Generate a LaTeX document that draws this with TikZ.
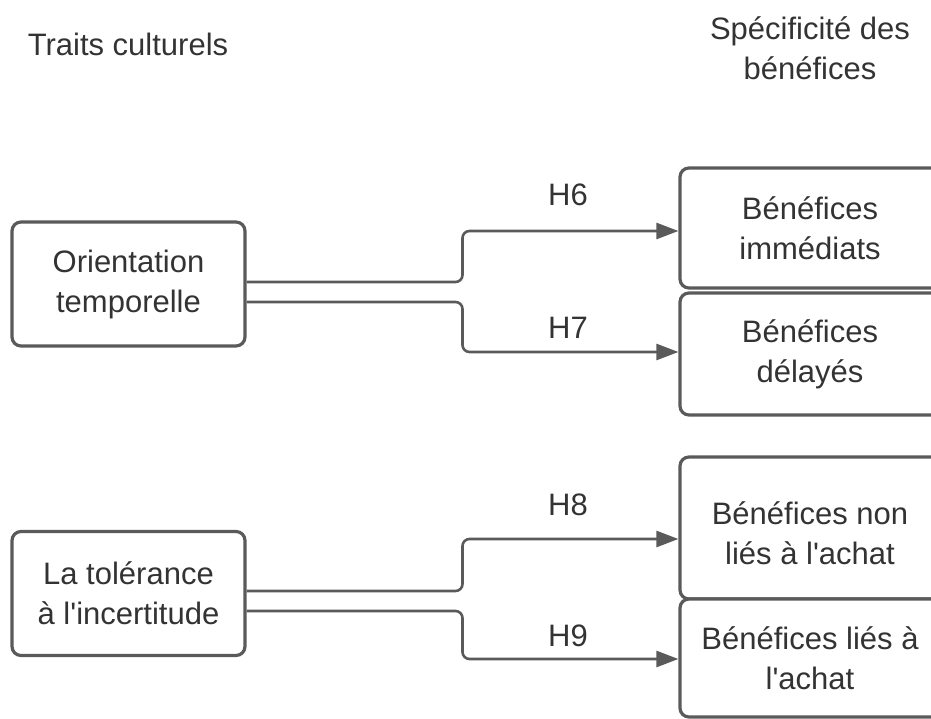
\documentclass[tikz,border=0pt]{standalone}
\usepackage{fontspec}
\setmainfont{Liberation Sans}[Ligatures=TeXOff]
\usetikzlibrary{arrows.meta,calc}
\definecolor{edge}{HTML}{5A5A5A}
\definecolor{ink}{HTML}{333333}
\begin{document}
\begin{tikzpicture}[x=1pt,y=-1pt,
  every node/.style={text=ink,font=\fontsize{31}{40}\selectfont},
  box/.style={draw=edge,line width=3.2pt,rounded corners=9pt,fill=white,
    align=center,inner sep=0pt},
  leftbox/.style={box,minimum width=233pt,minimum height=124pt},
  rightbox/.style={box,minimum width=260pt},
  conn/.style={draw=edge,line width=2.6pt,rounded corners=7pt,
    -{Triangle[length=22pt,width=16pt]}},
  hyp/.style={inner sep=0pt}]
\useasboundingbox (0,0) rectangle (931,719);
\clip (0,0) rectangle (931,719);

% column headings
\node (h1) at (128,44) {Traits culturels};
\node[align=center] (h2) at (810,48) {Spécificité des\\bénéfices};

% cultural traits
\node[leftbox] (ot) at (128.5,284) {Orientation\\temporelle};
\node[leftbox] (ti) at (128.5,593.5) {La tolérance\\à l'incertitude};

% benefit specificity
\node[rightbox,minimum height=120pt] (ib) at (810,228) {Bénéfices\\immédiats};
\node[rightbox,minimum height=122pt] (db) at (810,354) {Bénéfices\\délayés};
\node[rightbox,minimum height=142pt] (nb) at (810,528) {};
\node (nbt) at (810,536) {\begin{tabular}{@{}c@{}}Bénéfices non\\liés à l'achat\end{tabular}};
\node[rightbox,minimum height=118pt] (lb) at (810,658) {Bénéfices liés à\\l'achat};

% hypotheses
\coordinate (o1) at ([yshift=2pt]ot.east);
\coordinate (o2) at ([yshift=-18pt]ot.east);
\coordinate (t1) at ([yshift=2.5pt]ti.east);
\coordinate (t2) at ([yshift=-17.5pt]ti.east);
\coordinate (e1) at ([yshift=-3pt]ib.west);
\coordinate (e2) at ([yshift=2pt]db.west);
\coordinate (e3) at ([yshift=-11pt]nb.west);
\coordinate (e4) at ([yshift=-1pt]lb.west);

\draw[conn] (o1) -| ($(o1)!.5!(e1)$) |- (e1);
\draw[conn] (o2) -| ($(o2)!.5!(e2)$) |- (e2);
\draw[conn] (t1) -| ($(t1)!.5!(e3)$) |- (e3);
\draw[conn] (t2) -| ($(t2)!.5!(e4)$) |- (e4);

\node[hyp] (H6) at (568,195) {H6};
\node[hyp] (H7) at (568,328) {H7};
\node[hyp] (H8) at (568,505) {H8};
\node[hyp] (H9) at (568,636) {H9};
\end{tikzpicture}
\end{document}
